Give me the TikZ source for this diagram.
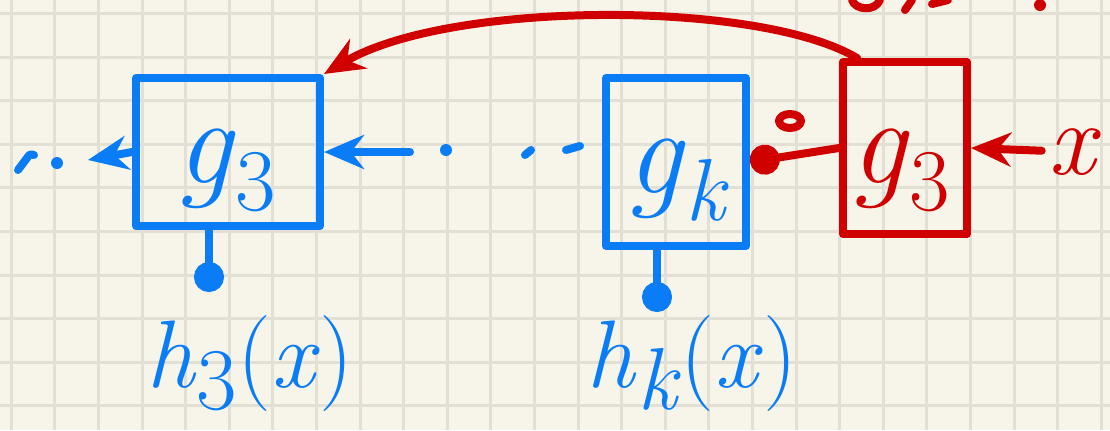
\documentclass[tikz,border=0pt]{standalone}
\usepackage{fontspec}
\usetikzlibrary{arrows.meta, positioning}
\tikzset{every node/.style={font=\fontsize{62}{70}\selectfont}}
\newcommand{\sub}[1]{\raisebox{-0.22em}{\fontsize{44}{50}\selectfont #1}}

\begin{document}
\begin{tikzpicture}[x=0.5pt, y=-0.5pt, >={Stealth[length=20pt, width=17pt]}]
  % Fixed bounding box (pixel units, y downwards)
  \path[use as bounding box] (0,0) rectangle (1110,430);

  % Colors of the note page.
  \definecolor{papercol}{HTML}{F7F5EA}
  \definecolor{gridcol}{HTML}{E2E0D4}
  \definecolor{penblue}{HTML}{0A7CF5}
  \definecolor{penred}{HTML}{D10000}

  \tikzset{
    pen/.style={line width=4pt, line cap=round, line join=round},
    block/.style={pen, draw, rectangle, inner sep=0pt},
    blob/.style={-{Circle[length=15pt]}},
    outlbl/.style={penblue, inner sep=1pt, font=\fontsize{48}{54}\selectfont},
  }

  % Paper and grid.
  \fill[papercol] (0,0) rectangle (1110,430);
  \foreach \k in {0,...,25}
    \draw[gridcol, line width=1.5pt] (11.2+43.6*\k,0) -- (11.2+43.6*\k,430);
  \foreach \k in {0,...,9}
    \draw[gridcol, line width=1.5pt] (0,13.4+43.6*\k) -- (1110,13.4+43.6*\k);

  % Blocks.
  \node[block, penblue, minimum width=92pt, minimum height=74pt] (b1) at (228,152) {};
  \node[penblue] at (226,170) {\textit{g}\sub{3}};
  \node[block, penblue, minimum width=70pt, minimum height=84pt] (bk) at (676,162) {};
  \node[penblue] at (678,180) {\textit{g}\sub{\textit{k}}};
  \node[block, penred, minimum width=62pt, minimum height=86pt] (rb) at (905,148) {};
  \node[penred] at (900,170) {\textit{g}\sub{3}};

  % Outputs and input.
  \node[outlbl] (h3) at (250,364) {\textit{h}\sub{3}(\textit{x})};
  \node[outlbl] (hk) at (692,364) {\textit{h}\sub{\textit{k}}(\textit{x})};
  \node[penred, font=\fontsize{52}{58}\selectfont] (xin) at (1075,152) {\textit{x}};
  \coordinate (h3dot) at (209,292);
  \coordinate (hkdot) at (657,312);

  % Chain of blocks.
  \coordinate (lout) at (88,160);
  \coordinate (din) at (410,152);
  \draw[pen, penblue, ->] (b1.west) -- (lout);
  \draw[pen, penblue, ->] (din) -- (b1.east);
  \fill[penblue] (57,163) circle (6);
  \draw[pen, penblue] (18,170) -- (27,158) .. controls (30,154) .. (34,155);
  \fill[penblue] (446,150) circle (6);
  \draw[pen, penblue] (525,155) -- (531,150);
  \draw[pen, penblue] (566,150) -- (580,146);

  % Outputs of the blocks.
  \draw[pen, penblue, blob] (b1.south -| h3dot) -- (h3dot);
  \draw[pen, penblue, blob] (bk.south -| hkdot) -- (hkdot);

  % Red block feeding back.
  \draw[pen, penred, ->] (xin) -- (rb.east);
  \draw[pen, penred, blob] (rb.west) -- (bk.east);
  \draw[pen, penred] (790,121) ellipse (11 and 7);
  \draw[pen, penred, ->] ([xshift=9pt]rb.north west)
    .. controls (760,0) and (450,0) .. (b1.north east);

  % Cut-off writing at the top edge.
  \draw[pen, penred] (852,0) .. controls (855,10) and (875,12) .. (880,0);
  \draw[pen, penred] (905,10) -- (912,0);
  \draw[pen, penred] (932,4) -- (948,0);
  \fill[penred] (1040,5) circle (6);
\end{tikzpicture}
\end{document}
